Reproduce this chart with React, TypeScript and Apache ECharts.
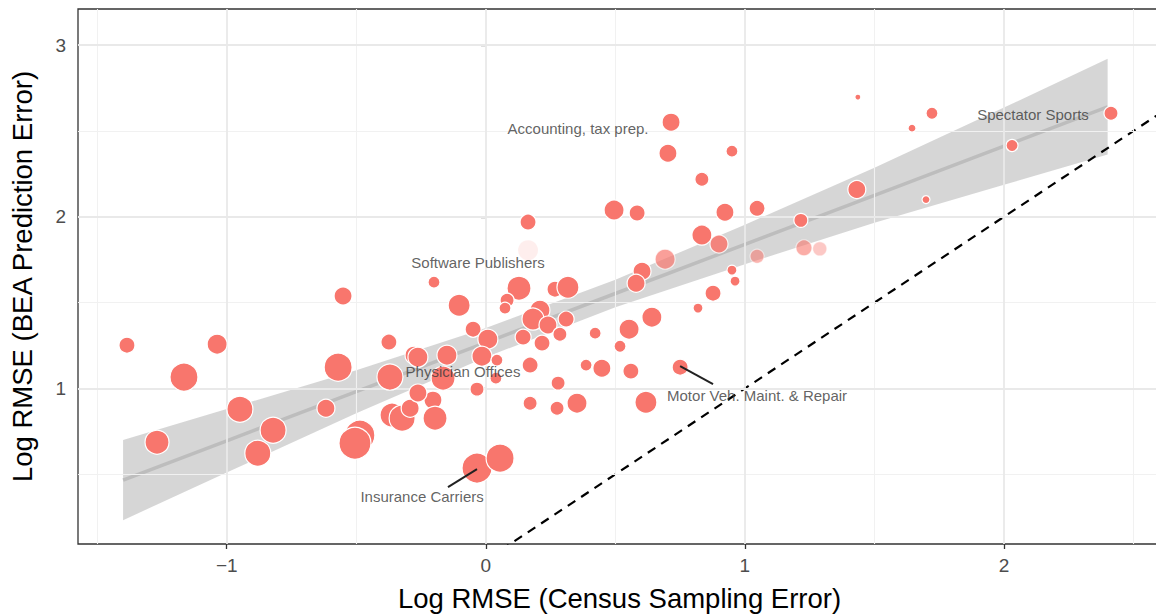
import React, { useEffect, useRef } from "react";
import * as echarts from "echarts";

// ---- data ----
const censusError = [
  -1.385, -1.269, -1.165, -1.037, -0.949, -0.88, -0.821, -0.617, -0.57, -0.551,
  -0.486, -0.505, -0.374, -0.37, -0.362, -0.323, -0.292, -0.204, -0.196, -0.262,
  -0.277, -0.262, -0.15, -0.165, -0.2, -0.103, -0.049, 0.008, -0.015, 0.043,
  0.039, -0.034, -0.034, 0.055, 0.128, 0.082, 0.074, 0.163, 0.163, 0.267,
  0.317, 0.209, 0.182, 0.24, 0.31, 0.144, 0.217, 0.286, 0.422, 0.518,
  0.553, 0.641, 0.819, 0.877, 0.95, 0.962, 0.171, 0.387, 0.448, 0.56,
  0.75, 0.279, 0.171, 0.275, 0.352, 0.618, 0.495, 0.584, 0.715, 0.703,
  0.95, 0.834, 0.923, 1.047, 0.834, 0.9, 0.692, 0.603, 0.58, 1.047,
  1.216, 1.432, 1.436, 1.645, 1.722, 1.699, 2.031, 2.413, 1.228, 1.289,
];
const beaError = [
  1.252, 0.687, 1.066, 1.258, 0.879, 0.623, 0.757, 0.885, 1.124, 1.538,
  0.728, 0.681, 1.27, 1.066, 0.845, 0.827, 0.885, 0.932, 0.827, 0.973,
  1.194, 1.182, 1.194, 1.06, 1.619, 1.485, 1.345, 1.287, 1.188, 1.165,
  1.06, 0.996, 0.536, 0.594, 1.584, 1.514, 1.468, 1.969, 1.805, 1.578,
  1.59, 1.456, 1.404, 1.369, 1.404, 1.299, 1.264, 1.316, 1.322, 1.246,
  1.345, 1.415, 1.468, 1.555, 1.689, 1.625, 1.136, 1.136, 1.118, 1.101,
  1.124, 1.031, 0.914, 0.885, 0.914, 0.92, 2.039, 2.022, 2.551, 2.37,
  2.382, 2.218, 2.026, 2.049, 1.893, 1.841, 1.753, 1.683, 1.613, 1.77,
  1.979, 2.159, 2.697, 2.516, 2.603, 2.1, 2.415, 2.603, 1.819, 1.813,
];
const weight = [
  64, 144, 196, 100, 169, 169, 169, 81, 196, 81,
  225, 256, 64, 169, 144, 169, 81, 81, 144, 81,
  81, 100, 100, 144, 36, 121, 64, 100, 100, 36,
  36, 49, 225, 196, 144, 49, 36, 64, 100, 64,
  121, 100, 121, 81, 64, 64, 64, 49, 36, 36,
  100, 100, 25, 64, 25, 25, 64, 36, 81, 64,
  64, 49, 49, 49, 100, 121, 100, 64, 81, 81,
  36, 49, 81, 64, 100, 81, 100, 81, 81, 49,
  49, 81, 9, 16, 36, 16, 36, 49, 64, 49,
];
const alpha = [
  1, 1, 1, 1, 1, 1, 1, 1, 1, 1,
  1, 1, 1, 1, 1, 1, 1, 1, 1, 1,
  1, 1, 1, 1, 1, 1, 1, 1, 1, 1,
  1, 1, 1, 1, 1, 1, 1, 1, 0.12, 1,
  1, 1, 1, 1, 1, 1, 1, 1, 1, 1,
  1, 1, 1, 1, 1, 1, 1, 1, 1, 1,
  1, 1, 1, 1, 1, 1, 1, 1, 1, 1,
  1, 1, 1, 1, 1, 0.85, 0.7, 1, 1, 0.55,
  1, 1, 1, 1, 1, 1, 1, 1, 0.6, 0.4,
];

// regression fit with confidence band
const bandX = [-1.4, -1.0, -0.5, 0.0, 0.5, 1.0, 1.5, 2.0, 2.4];
const bandFit = [0.466, 0.695, 0.981, 1.267, 1.553, 1.839, 2.125, 2.411, 2.64];
const bandLow = [0.233, 0.51, 0.856, 1.182, 1.473, 1.724, 1.965, 2.186, 2.362];
const bandHigh = [0.699, 0.88, 1.106, 1.352, 1.633, 1.954, 2.285, 2.636, 2.92];

// 45-degree reference line (y = x)
const identityX = [-2, 3];

// axes
const xMin = -1.574;
const xMax = 2.606;
const yMin = 0.094;
const yMax = 3.21;
const xMajor = [-1, 0, 1, 2];
const xMinor = [-1.5, -0.5, 0.5, 1.5, 2.5];
const yMajor = [1, 2, 3];
const yMinor = [0.5, 1.5, 2.5];

// annotations
const labelText = [
  "Accounting, tax prep.",
  "Software Publishers",
  "Physician Offices",
  "Motor Veh. Maint. & Repair",
  "Insurance Carriers",
  "Spectator Sports",
];
const labelX = [0.356, -0.03, -0.088, 1.047, -0.246, 2.112];
const labelY = [2.516, 1.735, 1.101, 0.961, 0.373, 2.598];
const leaderFrom = [
  [0.75, 1.13],
  [-0.034, 0.53],
];
const leaderTo = [
  [0.877, 1.025],
  [-0.146, 0.425],
];

const FONT = "'Liberation Sans', Arial, Helvetica, sans-serif";

export default function App() {
  const ref = useRef<HTMLDivElement>(null);

  useEffect(() => {
    if (!ref.current) return;
    const chart = echarts.init(ref.current, undefined, { renderer: "svg" });

    const gridLines: any[] = [];
    xMinor.forEach((v) =>
      gridLines.push({ xAxis: v, lineStyle: { color: "#f1f1f1", width: 1.1, type: "solid" } })
    );
    yMinor.forEach((v) =>
      gridLines.push({ yAxis: v, lineStyle: { color: "#f1f1f1", width: 1.1, type: "solid" } })
    );
    xMajor.forEach((v) =>
      gridLines.push({ xAxis: v, lineStyle: { color: "#e9e9e9", width: 1.8, type: "solid" } })
    );
    yMajor.forEach((v) =>
      gridLines.push({ yAxis: v, lineStyle: { color: "#e9e9e9", width: 1.8, type: "solid" } })
    );

    const fmt = (v: number) => (v < 0 ? "\u2212" + Math.abs(v) : String(v));

    const option: any = {
      animation: false,
      textStyle: { fontFamily: FONT },
      grid: {
        left: 78,
        top: 9,
        width: 1083,
        height: 535,
        show: true,
        borderColor: "#333333",
        borderWidth: 1.3,
        backgroundColor: "transparent",
        containLabel: false,
        outerBoundsMode: "none",
      },
      xAxis: {
        type: "value",
        min: xMin,
        max: xMax,
        splitLine: { show: false },
        axisLine: { show: false },
        axisTick: {
          show: true,
          customValues: xMajor,
          length: 5,
          lineStyle: { color: "#333333", width: 1.3 },
        },
        axisLabel: {
          customValues: xMajor,
          formatter: fmt,
          fontSize: 19,
          color: "#4d4d4d",
          margin: 12,
          fontFamily: FONT,
        },
        name: "Log RMSE (Census Sampling Error)",
        nameLocation: "middle",
        nameGap: 40,
        nameTextStyle: { fontSize: 27.5, color: "#000", fontFamily: FONT },
      },
      yAxis: {
        type: "value",
        min: yMin,
        max: yMax,
        splitLine: { show: false },
        axisLine: { show: false },
        axisTick: {
          show: true,
          customValues: yMajor,
          length: 5,
          lineStyle: { color: "#333333", width: 1.3 },
        },
        axisLabel: {
          customValues: yMajor,
          formatter: fmt,
          fontSize: 19,
          color: "#4d4d4d",
          margin: 12,
          fontFamily: FONT,
        },
        name: "Log RMSE (BEA Prediction Error)",
        nameLocation: "middle",
        nameGap: 42,
        nameTextStyle: { fontSize: 27.5, color: "#000", fontFamily: FONT },
      },
      series: [
        {
          type: "line",
          data: [],
          silent: true,
          z: 0,
          markLine: {
            silent: true,
            symbol: ["none", "none"],
            label: { show: false },
            animation: false,
            data: gridLines,
          },
        },
        {
          type: "custom",
          z: 2,
          silent: true,
          data: bandX.map((x, i) => [x, bandLow[i], bandHigh[i]]),
          renderItem: (params: any, api: any) => {
            if (params.dataIndex !== 0) return null;
            const upper = bandX.map((x, i) => api.coord([x, bandHigh[i]]));
            const lower = bandX
              .map((x, i) => api.coord([x, bandLow[i]]))
              .reverse();
            return {
              type: "polygon",
              shape: { points: upper.concat(lower) },
              style: { fill: "rgba(153,153,153,0.4)", stroke: "none" },
            };
          },
        },
        {
          type: "line",
          z: 3,
          silent: true,
          symbol: "none",
          data: bandX.map((x, i) => [x, bandFit[i]]),
          lineStyle: { color: "#bdbdbd", width: 3.5 },
        },
        {
          type: "line",
          z: 4,
          silent: true,
          symbol: "none",
          clip: true,
          data: identityX.map((v) => [v, v]),
          lineStyle: { color: "#000", width: 2.2, type: [9, 7] },
        },
        {
          type: "scatter",
          z: 5,
          data: censusError.map((x, i) => ({
            value: [x, beaError[i], weight[i]],
            itemStyle: { opacity: alpha[i] },
          })),
          symbolSize: (v: number[]) => 2 * Math.sqrt(v[2]),
          itemStyle: {
            color: "#F8766D",
            borderColor: "#ffffff",
            borderWidth: 1.2,
          },
        },
        {
          type: "lines",
          coordinateSystem: "cartesian2d",
          z: 6,
          silent: true,
          data: leaderFrom.map((f, i) => ({ coords: [f, leaderTo[i]] })),
          lineStyle: { color: "#222", width: 2, opacity: 1 },
        },
        {
          type: "scatter",
          z: 7,
          silent: true,
          symbolSize: 0,
          data: labelText.map((t, i) => ({ name: t, value: [labelX[i], labelY[i]] })),
          label: {
            show: true,
            position: "inside",
            formatter: (p: any) => p.name,
            fontSize: 15,
            color: "#3a3a3a",
            fontFamily: FONT,
          },
        },
      ],
    };

    chart.setOption(option);
    return () => chart.dispose();
  }, []);

  return (
    <div
      ref={ref}
      style={{ position: "absolute", left: 0, top: 0, width: 1156, height: 615, overflow: "hidden" }}
    />
  );
}
